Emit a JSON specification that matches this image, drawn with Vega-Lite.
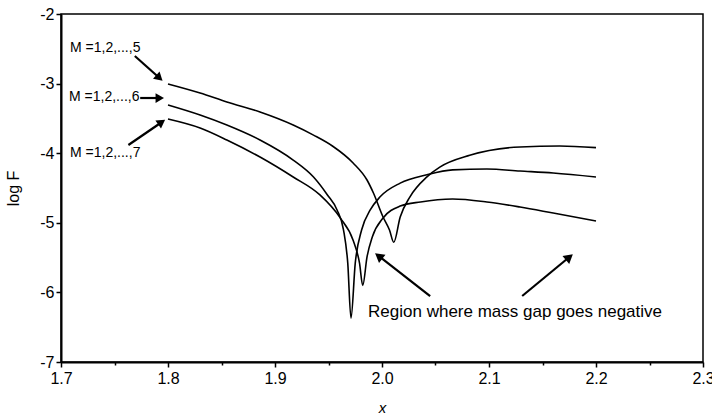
{
  "$schema": "https://vega.github.io/schema/vega-lite/v6.json",
  "width": 642,
  "height": 348,
  "autosize": {"type": "none"},
  "padding": {"left": 61, "top": 14, "right": 9, "bottom": 54},
  "background": "white",
  "view": {"stroke": "black", "strokeWidth": 1.5},
  "config": {
    "font": "Liberation Sans Narrow, Liberation Sans, sans-serif"
  },
  "datasets": {
    "curves": [
      {"M": "5", "x": 1.800, "y": -3.005},
      {"M": "5", "x": 1.830, "y": -3.135},
      {"M": "5", "x": 1.855, "y": -3.264},
      {"M": "5", "x": 1.886, "y": -3.408},
      {"M": "5", "x": 1.917, "y": -3.595},
      {"M": "5", "x": 1.936, "y": -3.740},
      {"M": "5", "x": 1.954, "y": -3.900},
      {"M": "5", "x": 1.973, "y": -4.140},
      {"M": "5", "x": 1.986, "y": -4.385},
      {"M": "5", "x": 1.992, "y": -4.572},
      {"M": "5", "x": 2.001, "y": -4.917},
      {"M": "5", "x": 2.007, "y": -5.103},
      {"M": "5", "x": 2.011, "y": -5.280},
      {"M": "5", "x": 2.017, "y": -4.917},
      {"M": "5", "x": 2.026, "y": -4.630},
      {"M": "5", "x": 2.042, "y": -4.340},
      {"M": "5", "x": 2.054, "y": -4.200},
      {"M": "5", "x": 2.082, "y": -4.030},
      {"M": "5", "x": 2.129, "y": -3.910},
      {"M": "5", "x": 2.166, "y": -3.897},
      {"M": "5", "x": 2.200, "y": -3.920},
      {"M": "6", "x": 1.800, "y": -3.307},
      {"M": "6", "x": 1.830, "y": -3.451},
      {"M": "6", "x": 1.855, "y": -3.595},
      {"M": "6", "x": 1.886, "y": -3.810},
      {"M": "6", "x": 1.917, "y": -4.098},
      {"M": "6", "x": 1.936, "y": -4.342},
      {"M": "6", "x": 1.949, "y": -4.600},
      {"M": "6", "x": 1.958, "y": -4.816},
      {"M": "6", "x": 1.964, "y": -5.100},
      {"M": "6", "x": 1.968, "y": -5.580},
      {"M": "6", "x": 1.971, "y": -6.370},
      {"M": "6", "x": 1.975, "y": -5.580},
      {"M": "6", "x": 1.981, "y": -5.100},
      {"M": "6", "x": 1.989, "y": -4.816},
      {"M": "6", "x": 1.998, "y": -4.630},
      {"M": "6", "x": 2.017, "y": -4.430},
      {"M": "6", "x": 2.042, "y": -4.310},
      {"M": "6", "x": 2.066, "y": -4.240},
      {"M": "6", "x": 2.098, "y": -4.227},
      {"M": "6", "x": 2.129, "y": -4.256},
      {"M": "6", "x": 2.160, "y": -4.285},
      {"M": "6", "x": 2.200, "y": -4.342},
      {"M": "7", "x": 1.800, "y": -3.509},
      {"M": "7", "x": 1.830, "y": -3.638},
      {"M": "7", "x": 1.855, "y": -3.810},
      {"M": "7", "x": 1.886, "y": -4.055},
      {"M": "7", "x": 1.917, "y": -4.342},
      {"M": "7", "x": 1.942, "y": -4.600},
      {"M": "7", "x": 1.961, "y": -4.930},
      {"M": "7", "x": 1.973, "y": -5.250},
      {"M": "7", "x": 1.979, "y": -5.580},
      {"M": "7", "x": 1.982, "y": -5.900},
      {"M": "7", "x": 1.986, "y": -5.490},
      {"M": "7", "x": 1.991, "y": -5.200},
      {"M": "7", "x": 2.001, "y": -4.930},
      {"M": "7", "x": 2.017, "y": -4.760},
      {"M": "7", "x": 2.036, "y": -4.700},
      {"M": "7", "x": 2.066, "y": -4.658},
      {"M": "7", "x": 2.098, "y": -4.700},
      {"M": "7", "x": 2.129, "y": -4.773},
      {"M": "7", "x": 2.160, "y": -4.860},
      {"M": "7", "x": 2.200, "y": -4.974}
    ],
    "labels": [
      {"label": "M =1,2,...,5", "x": 1.7084, "y": -2.489},
      {"label": "M =1,2,...,6", "x": 1.7075, "y": -3.193},
      {"label": "M =1,2,...,7", "x": 1.7084, "y": -3.997}
    ],
    "region": [
      {"label": "Region where mass gap goes negative", "x": 1.987, "y": -6.282}
    ],
    "arrows": [
      {"id": "a5", "x": 1.769, "y": -2.603, "x2": 1.791, "y2": -2.905},
      {"id": "a6", "x": 1.774, "y": -3.207, "x2": 1.791, "y2": -3.207},
      {"id": "a7", "x": 1.763, "y": -3.882, "x2": 1.793, "y2": -3.566},
      {"id": "r1", "x": 2.045, "y": -6.052, "x2": 1.998, "y2": -5.491},
      {"id": "r2", "x": 2.131, "y": -6.052, "x2": 2.174, "y2": -5.506}
    ]
  },
  "layer": [
    {
      "data": {"name": "curves"},
      "mark": {"type": "line", "color": "black", "strokeWidth": 1.6, "interpolate": "monotone"},
      "encoding": {
        "x": {
          "field": "x", "type": "quantitative",
          "scale": {"domain": [1.7, 2.3], "nice": false, "zero": false},
          "axis": {
            "title": "x",
            "titleFontStyle": "italic",
            "titleFontWeight": "normal",
            "titleFontSize": 15,
            "titleX": 321,
            "titleY": 45,
            "titleBaseline": "middle",
            "values": [1.7, 1.75, 1.8, 1.85, 1.9, 1.95, 2.0, 2.05, 2.1, 2.15, 2.2, 2.25, 2.3],
            "labelExpr": "abs(datum.value*10 - round(datum.value*10)) < 0.01 ? format(datum.value, '.1f') : ''",
            "labelFontSize": 16,
            "labelColor": "black",
            "labelPadding": 3,
            "labelFlush": false,
            "labelOverlap": false,
            "grid": false,
            "domainColor": "black",
            "domainWidth": 2,
            "tickColor": "black",
            "tickWidth": 1.5,
            "tickSize": {"condition": {"test": "abs(datum.value*10 - round(datum.value*10)) < 0.01", "value": 5}, "value": 3}
          }
        },
        "y": {
          "field": "y", "type": "quantitative",
          "scale": {"domain": [-7, -2], "nice": false, "zero": false},
          "axis": {
            "title": "log F",
            "titleFontWeight": "normal",
            "titleFontSize": 16,
            "titleX": -48,
            "titleY": 174,
            "titleBaseline": "middle",
            "values": [-7, -6.5, -6, -5.5, -5, -4.5, -4, -3.5, -3, -2.5, -2],
            "labelExpr": "datum.value == round(datum.value) ? '-' + abs(datum.value) : ''",
            "labelFontSize": 16,
            "labelColor": "black",
            "labelPadding": 2,
            "labelFlush": false,
            "labelOverlap": false,
            "grid": false,
            "domainColor": "black",
            "domainWidth": 2,
            "tickColor": "black",
            "tickWidth": 1.5,
            "tickSize": {"condition": {"test": "datum.value == round(datum.value)", "value": 5}, "value": 3}
          }
        },
        "detail": {"field": "M"}
      }
    },
    {
      "data": {"name": "labels"},
      "mark": {"type": "text", "align": "left", "baseline": "middle", "fontSize": 14, "color": "black"},
      "encoding": {
        "x": {"field": "x", "type": "quantitative"},
        "y": {"field": "y", "type": "quantitative"},
        "text": {"field": "label"}
      }
    },
    {
      "data": {"name": "region"},
      "mark": {"type": "text", "align": "left", "baseline": "middle", "fontSize": 17, "color": "black"},
      "encoding": {
        "x": {"field": "x", "type": "quantitative"},
        "y": {"field": "y", "type": "quantitative"},
        "text": {"field": "label"}
      }
    },
    {
      "data": {"name": "arrows"},
      "mark": {"type": "rule", "color": "black", "strokeWidth": 2.2},
      "encoding": {
        "x": {"field": "x", "type": "quantitative"},
        "y": {"field": "y", "type": "quantitative"},
        "x2": {"field": "x2"},
        "y2": {"field": "y2"}
      }
    },
    {
      "data": {"name": "arrows"},
      "transform": [{"filter": "datum.id == 'a5'"}],
      "mark": {"type": "point", "shape": "triangle", "filled": true, "color": "black", "opacity": 1, "size": 95, "angle": 132},
      "encoding": {"x": {"field": "x2", "type": "quantitative"}, "y": {"field": "y2", "type": "quantitative"}}
    },
    {
      "data": {"name": "arrows"},
      "transform": [{"filter": "datum.id == 'a6'"}],
      "mark": {"type": "point", "shape": "triangle", "filled": true, "color": "black", "opacity": 1, "size": 95, "angle": 90},
      "encoding": {"x": {"field": "x2", "type": "quantitative"}, "y": {"field": "y2", "type": "quantitative"}}
    },
    {
      "data": {"name": "arrows"},
      "transform": [{"filter": "datum.id == 'a7'"}],
      "mark": {"type": "point", "shape": "triangle", "filled": true, "color": "black", "opacity": 1, "size": 95, "angle": 55},
      "encoding": {"x": {"field": "x2", "type": "quantitative"}, "y": {"field": "y2", "type": "quantitative"}}
    },
    {
      "data": {"name": "arrows"},
      "transform": [{"filter": "datum.id == 'r1'"}],
      "mark": {"type": "point", "shape": "triangle", "filled": true, "color": "black", "opacity": 1, "size": 110, "angle": 308},
      "encoding": {"x": {"field": "x2", "type": "quantitative"}, "y": {"field": "y2", "type": "quantitative"}}
    },
    {
      "data": {"name": "arrows"},
      "transform": [{"filter": "datum.id == 'r2'"}],
      "mark": {"type": "point", "shape": "triangle", "filled": true, "color": "black", "opacity": 1, "size": 110, "angle": 50},
      "encoding": {"x": {"field": "x2", "type": "quantitative"}, "y": {"field": "y2", "type": "quantitative"}}
    }
  ]
}
